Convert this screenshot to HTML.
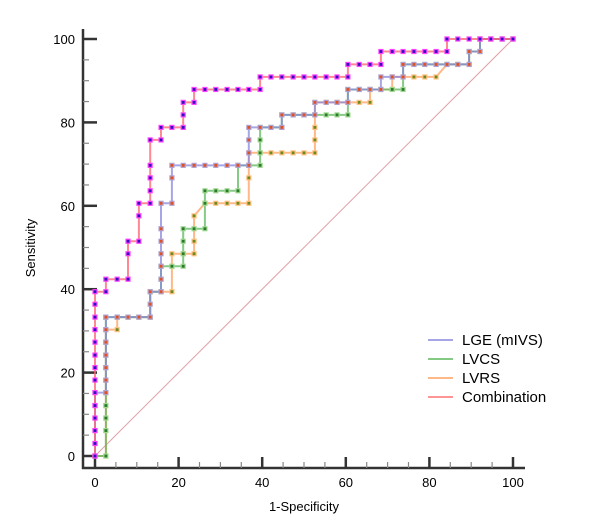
<!DOCTYPE html>
<html><head><meta charset="utf-8">
<style>
body{margin:0;background:#fff;width:612px;height:529px;overflow:hidden;font-family:"Liberation Sans",sans-serif;}
svg{display:block}
</style></head>
<body>
<svg id="chart" width="612" height="529" xmlns="http://www.w3.org/2000/svg">
  <g id="grid-axes"></g>
  <g id="series"></g>
  <text x="35" y="248" font-size="13" text-anchor="middle" transform="rotate(-90 35 248)" fill="#000">Sensitivity</text>
  <text x="304" y="511" font-size="13" text-anchor="middle" fill="#000">1-Specificity</text>
  <g font-size="15" font-family="Liberation Sans, sans-serif">
    <line x1="428" y1="340" x2="453" y2="340" stroke="#8888dd" stroke-width="1.5"/>
    <text x="462" y="345">LGE (mIVS)</text>
    <line x1="428" y1="359" x2="453" y2="359" stroke="#5cb85c" stroke-width="1.5"/>
    <text x="462" y="364">LVCS</text>
    <line x1="428" y1="378" x2="453" y2="378" stroke="#ffa060" stroke-width="1.5"/>
    <text x="462" y="383">LVRS</text>
    <line x1="428" y1="397" x2="453" y2="397" stroke="#ff7070" stroke-width="1.5"/>
    <text x="462" y="402">Combination</text>
  </g>
</svg>
<script>
const xTicks = [0,20,40,60,80,100];
const yTicks = [0,20,40,60,80,100];
const combFpr = [0,0,0,0,0,0,0,0,0,0,0,0,0,0,2.6,2.6,5.3,7.9,7.9,7.9,10.5,10.5,10.5,13.2,13.2,13.2,13.2,13.2,15.8,15.8,18.4,21.1,21.1,21.1,23.7,23.7,26.3,28.9,31.6,34.2,36.8,39.5,39.5,42.1,44.7,47.4,50,52.6,55.3,57.9,60.5,60.5,63.2,65.8,68.4,68.4,71.1,73.7,76.3,78.9,81.6,84.2,84.2,86.8,89.5,92.1,94.7,97.4,100];
const combTpr = [0,3,6.1,9.1,12.1,15.2,18.2,21.2,24.2,27.3,30.3,33.3,36.4,39.4,39.4,42.4,42.4,42.4,48.5,51.5,51.5,57.6,60.6,60.6,63.6,66.7,69.7,75.8,75.8,78.8,78.8,78.8,81.8,84.8,84.8,87.9,87.9,87.9,87.9,87.9,87.9,87.9,90.9,90.9,90.9,90.9,90.9,90.9,90.9,90.9,90.9,93.9,93.9,93.9,93.9,97,97,97,97,97,97,97,100,100,100,100,100,100,100];
const lgeFpr = [0,0,0,0,0,0,2.6,2.6,2.6,2.6,2.6,2.6,2.6,5.3,7.9,10.5,13.2,13.2,13.2,15.8,15.8,15.8,15.8,15.8,15.8,15.8,18.4,18.4,18.4,21.1,23.7,26.3,28.9,31.6,34.2,36.8,36.8,36.8,36.8,39.5,42.1,44.7,44.7,47.4,50,52.6,52.6,55.3,57.9,60.5,60.5,63.2,65.8,68.4,68.4,71.1,73.7,73.7,76.3,78.9,81.6,84.2,86.8,89.5,89.5,92.1,92.1,94.7,97.4,100];
const lgeTpr = [0,3,6.1,9.1,12.1,15.2,15.2,18.2,21.2,24.2,27.3,30.3,33.3,33.3,33.3,33.3,33.3,36.4,39.4,39.4,42.4,45.5,48.5,51.5,54.5,60.6,60.6,66.7,69.7,69.7,69.7,69.7,69.7,69.7,69.7,69.7,72.7,75.8,78.8,78.8,78.8,78.8,81.8,81.8,81.8,81.8,84.8,84.8,84.8,84.8,87.9,87.9,87.9,87.9,90.9,90.9,90.9,93.9,93.9,93.9,93.9,93.9,93.9,93.9,97,97,100,100,100,100];
const lvcsFpr = [0,2.6,2.6,2.6,2.6,2.6,2.6,2.6,2.6,2.6,2.6,2.6,2.6,5.3,7.9,10.5,13.2,13.2,15.8,15.8,15.8,18.4,21.1,21.1,21.1,21.1,23.7,26.3,26.3,26.3,28.9,31.6,34.2,34.2,36.8,39.5,39.5,39.5,39.5,42.1,44.7,44.7,47.4,50,52.6,55.3,57.9,60.5,60.5,60.5,63.2,65.8,68.4,71.1,73.7,73.7,76.3,78.9,81.6,84.2,86.8,89.5,89.5,92.1,92.1,94.7,97.4,100];
const lvcsTpr = [0,0,6.1,9.1,12.1,15.2,18.2,21.2,24.2,27.3,30.3,33.3,33.3,33.3,33.3,33.3,33.3,39.4,39.4,42.4,45.5,45.5,45.5,48.5,51.5,54.5,54.5,54.5,60.6,63.6,63.6,63.6,63.6,69.7,69.7,69.7,72.7,75.8,78.8,78.8,78.8,81.8,81.8,81.8,81.8,81.8,81.8,81.8,84.8,87.9,87.9,87.9,87.9,87.9,87.9,93.9,93.9,93.9,93.9,93.9,93.9,93.9,97,97,100,100,100,100];
const lvrsFpr = [0,2.6,2.6,2.6,2.6,2.6,2.6,2.6,2.6,2.6,2.6,5.3,5.3,7.9,10.5,13.2,13.2,15.8,18.4,18.4,18.4,21.1,23.7,23.7,23.7,26.3,28.9,31.6,34.2,36.8,36.8,36.8,36.8,39.5,42.1,44.7,47.4,50,52.6,52.6,52.6,52.6,52.6,55.3,57.9,60.5,63.2,65.8,65.8,68.4,71.1,71.1,73.7,76.3,78.9,81.6,84.2,86.8,89.5,89.5,92.1,92.1,94.7,97.4,100];
const lvrsTpr = [0,0,6.1,9.1,12.1,15.2,18.2,21.2,24.2,27.3,30.3,30.3,33.3,33.3,33.3,33.3,39.4,39.4,39.4,45.5,48.5,48.5,48.5,51.5,57.6,60.6,60.6,60.6,60.6,60.6,66.7,69.7,72.7,72.7,72.7,72.7,72.7,72.7,72.7,75.8,78.8,81.8,84.8,84.8,84.8,84.8,84.8,84.8,87.9,87.9,87.9,90.9,90.9,90.9,90.9,90.9,93.9,93.9,93.9,97,97,100,100,100,100];

const NS='http://www.w3.org/2000/svg';
const X0=95, X1=513, Y0=456, Y1=39;
const sx=v=>X0+(X1-X0)*v/100;
const sy=v=>Y0-(Y0-Y1)*v/100;
function mk(tag,attrs,parent){const e=document.createElementNS(NS,tag);for(const k in attrs)e.setAttribute(k,attrs[k]);parent.appendChild(e);return e;}
const ax=document.getElementById('grid-axes');
let a=mk('line',{x1:83,y1:Y1-10,x2:83,y2:469,stroke:'#333','stroke-width':2.5},ax);


a=mk('line',{x1:82,y1:468,x2:X1+12,y2:468,stroke:'#333','stroke-width':2.5},ax);


for(let v=0;v<=100;v+=5){
  const major=v%20===0;
  const t=mk('line',{x1:83,y1:sy(v),x2:major?97:89,y2:sy(v),stroke:major?'#333':'#888','stroke-width':major?2.5:1.2},ax);
  
  
  const u=mk('line',{x1:sx(v),y1:468,x2:sx(v),y2:major?457:462,stroke:major?'#333':'#888','stroke-width':major?2.5:1.2},ax);
  
  
}
yTicks.forEach(v=>{const t=mk('text',{x:75,y:sy(v)+5,'font-size':13,'text-anchor':'end',fill:'#000'},ax);t.textContent=v;
  
  });
xTicks.forEach(v=>{const t=mk('text',{x:sx(v),y:487,'font-size':13,'text-anchor':'middle',fill:'#000'},ax);t.textContent=v;
  
  });
const sg=document.getElementById('series');
const diag=mk('line',{x1:sx(0),y1:sy(0),x2:sx(100),y2:sy(100),stroke:'#e0a0a8','stroke-width':1},sg);


function series(name,fpr,tpr,lineColor,markFill,markStroke){
  const g=mk('g',{},sg);
  
  
  let d='';
  fpr.forEach((f,i)=>{d+=(i?'L':'M')+sx(f).toFixed(1)+' '+sy(tpr[i]).toFixed(1);});
  const p=mk('path',{d:d,fill:'none',stroke:lineColor,'stroke-width':2,'stroke-opacity':0.75},g);
  
  
  fpr.forEach((f,i)=>{
    const r=mk('rect',{x:sx(f)-2,y:sy(tpr[i])-2,width:4,height:4,fill:markFill,stroke:markStroke,'stroke-width':1.2},g);
    
    
  });
}
series('lvrs',lvrsFpr,lvrsTpr,'#ffa060','#6a8a20','#ffc080');
series('lvcs',lvcsFpr,lvcsTpr,'#5cb85c','#2a7a2a','#a0d890');
series('lge',lgeFpr,lgeTpr,'#8888dd','#e05020','#b0a0d0');
series('combination',combFpr,combTpr,'#ff6070','#3010c0','#ff40ff');
</script>
</body></html>
